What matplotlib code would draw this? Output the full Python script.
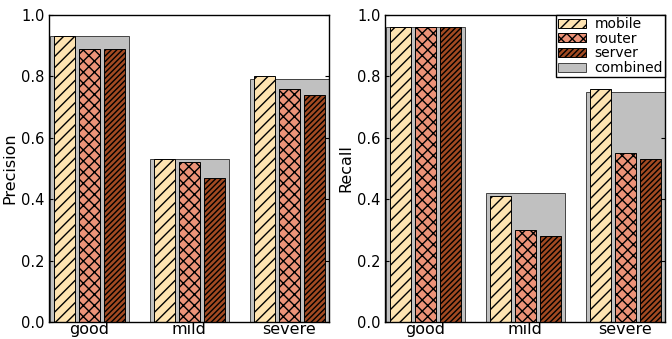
import numpy as np
import matplotlib
matplotlib.use('Agg')
import matplotlib.pyplot as plt

categories = ['good', 'mild', 'severe']
series = ['mobile', 'router', 'server']

precision_mobile = [0.93, 0.53, 0.80]
precision_router = [0.89, 0.52, 0.76]
precision_server = [0.89, 0.47, 0.74]
precision_combined = [0.93, 0.53, 0.79]

recall_mobile = [0.96, 0.41, 0.76]
recall_router = [0.96, 0.30, 0.55]
recall_server = [0.96, 0.28, 0.53]
recall_combined = [0.96, 0.42, 0.75]

colors = ['#fee3b1', '#ec9378', '#a24a22']
hatches = ['///', 'xxx', '//////']
yticks = [0.0, 0.2, 0.4, 0.6, 0.8, 1.0]

plt.rcParams['hatch.linewidth'] = 1.0
plt.rcParams['xtick.direction'] = 'in'
plt.rcParams['ytick.direction'] = 'in'
plt.rcParams['xtick.top'] = True
plt.rcParams['ytick.right'] = True

fig = plt.figure(figsize=(6.72, 3.39), dpi=100)
ax1 = fig.add_axes([49 / 672, 17 / 339, 280 / 672, 307 / 339])
ax2 = fig.add_axes([385 / 672, 17 / 339, 280 / 672, 307 / 339])

x = np.arange(len(categories))


def draw(ax, vals, combined, ylabel, legend=False):
    ax.bar(x, combined, 0.79, color='#c0c0c0', edgecolor='#444444',
           linewidth=0.7, label='combined', zorder=1)
    for i, (v, name) in enumerate(zip(vals, series)):
        ax.bar(x + (i - 1) * 0.25, v, 0.21, color=colors[i], edgecolor='black',
               hatch=hatches[i], linewidth=0.7, label=name, zorder=2)
    ax.set_xlim(-0.4, 2.4)
    ax.set_ylim(0, 1.0)
    ax.set_xticks(x)
    ax.set_xticklabels(categories, fontsize=11.5)
    ax.set_yticks(yticks)
    ax.set_yticklabels(['%.1f' % t for t in yticks], fontsize=10.5)
    ax.tick_params(axis='x', length=0, pad=0)
    ax.tick_params(axis='y', length=3, pad=3)
    ax.set_ylabel(ylabel, fontsize=11.5, labelpad=3)
    for s in ax.spines.values():
        s.set_linewidth(1.0)
    if legend:
        h, l = ax.get_legend_handles_labels()
        order = [1, 2, 3, 0]
        ax.legend([h[k] for k in order], [l[k] for k in order], loc='upper right',
                  fontsize=10, frameon=True, fancybox=False, edgecolor='black',
                  framealpha=1, borderaxespad=0, handlelength=2.0,
                  handleheight=0.6, handletextpad=0.6, labelspacing=0.05,
                  borderpad=0.15)


draw(ax1, [precision_mobile, precision_router, precision_server],
     precision_combined, 'Precision')
draw(ax2, [recall_mobile, recall_router, recall_server],
     recall_combined, 'Recall', legend=True)

fig.savefig('out.png', dpi=100)
